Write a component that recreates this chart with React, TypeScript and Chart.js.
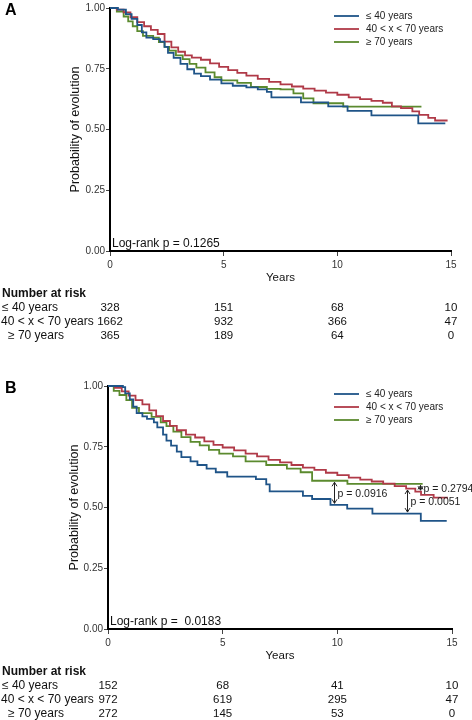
import React, { useEffect, useRef } from "react";
import { Chart, registerables } from "chart.js";
Chart.register(...registerables);

const FONT = '"Liberation Sans", Arial, Helvetica, sans-serif';

const seriesLabels = ["≤ 40 years", "40 < x < 70 years", "≥ 70 years"];
const seriesColors = ["#1f5488", "#b03a48", "#5b8a2e"];
const riskTimes = [0, 5, 10, 15];

// ---------- Panel A ----------
const blueA_t = [0, 0.35, 0.7, 0.95, 1.2, 1.4, 1.6, 1.9, 2.2, 2.4, 2.55, 2.8, 3.1, 3.4, 3.7, 4.0, 4.4, 4.9, 5.4, 6.0, 6.5, 6.9, 7.1, 8.4, 9.6, 10.45, 11.5, 13.56, 14.75];
const blueA_s = [1.0, 0.993, 0.975, 0.955, 0.93, 0.9, 0.878, 0.872, 0.862, 0.84, 0.815, 0.795, 0.77, 0.748, 0.73, 0.72, 0.705, 0.69, 0.68, 0.673, 0.665, 0.655, 0.632, 0.612, 0.595, 0.577, 0.558, 0.525, 0.525];
const redA_t = [0, 0.3, 0.6, 0.9, 1.2, 1.5, 1.8, 2.1, 2.4, 2.7, 3.0, 3.3, 3.6, 4.0, 4.4, 4.8, 5.2, 5.6, 6.0, 6.5, 7.0, 7.5, 8.0, 8.5, 9.0, 9.5, 10.0, 10.5, 11.0, 11.5, 12.0, 12.4, 12.8, 13.3, 13.6, 14.0, 14.3, 14.85];
const redA_s = [1.0, 0.993, 0.982, 0.962, 0.942, 0.925, 0.91, 0.893, 0.862, 0.838, 0.82, 0.805, 0.796, 0.787, 0.772, 0.758, 0.744, 0.733, 0.722, 0.708, 0.696, 0.686, 0.677, 0.668, 0.66, 0.652, 0.643, 0.632, 0.625, 0.618, 0.61, 0.595, 0.588, 0.575, 0.56, 0.548, 0.537, 0.537];
const greenA_t = [0, 0.3, 0.6, 0.8, 1.0, 1.2, 1.45, 1.9, 2.15, 2.4, 2.6, 2.9, 3.2, 3.5, 3.8, 4.2, 4.6, 4.9, 5.6, 6.2, 6.9, 7.5, 8.07, 8.5, 8.95, 10.26, 13.7];
const greenA_s = [1.0, 0.985, 0.965, 0.945, 0.925, 0.905, 0.885, 0.878, 0.86, 0.84, 0.825, 0.805, 0.79, 0.77, 0.755, 0.735, 0.715, 0.702, 0.692, 0.675, 0.667, 0.665, 0.649, 0.628, 0.608, 0.594, 0.594];

const riskA_le40 = [328, 151, 68, 10];
const riskA_mid = [1662, 932, 366, 47];
const riskA_ge70 = [365, 189, 64, 0];
const logRankA = "Log-rank p = 0.1265";

// ---------- Panel B ----------
const blueB_t = [0, 0.65, 0.75, 0.95, 1.1, 1.25, 1.5, 1.7, 2.0, 2.15, 2.4, 2.55, 2.75, 3.0, 3.2, 3.6, 3.9, 4.3, 4.7, 5.2, 6.45, 6.9, 7.05, 8.5, 8.9, 9.7, 10.43, 11.53, 13.64, 14.77];
const blueB_s = [1.0, 0.995, 0.97, 0.945, 0.915, 0.888, 0.875, 0.865, 0.85, 0.83, 0.8, 0.775, 0.755, 0.73, 0.707, 0.69, 0.675, 0.66, 0.645, 0.627, 0.617, 0.595, 0.566, 0.548, 0.535, 0.511, 0.495, 0.475, 0.445, 0.445];
const redB_t = [0, 0.3, 0.6, 0.9, 1.2, 1.5, 1.8, 2.1, 2.4, 2.7, 3.0, 3.4, 3.8, 4.2, 4.6, 5.0, 5.5, 6.0, 6.5, 7.0, 7.5, 8.0, 8.5, 9.0, 9.5, 10.0, 10.5, 11.0, 11.5, 12.0, 12.5, 13.0, 13.4, 13.65, 14.2, 14.82];
const redB_s = [1.0, 0.992, 0.978, 0.96, 0.942, 0.924, 0.9, 0.876, 0.856, 0.836, 0.818, 0.8, 0.788, 0.772, 0.758, 0.747, 0.735, 0.722, 0.71, 0.696, 0.686, 0.675, 0.664, 0.655, 0.643, 0.633, 0.623, 0.615, 0.607, 0.598, 0.588, 0.578, 0.565, 0.552, 0.541, 0.541];
const greenB_t = [0, 0.25, 0.5, 0.8, 1.05, 1.35, 1.9, 2.3, 2.55, 2.85, 3.2, 3.6, 4.0, 4.4, 4.85, 5.45, 6.0, 6.9, 7.8, 8.4, 8.9, 10.44, 13.72];
const greenB_s = [1.0, 0.98, 0.963, 0.942, 0.91, 0.888, 0.873, 0.85, 0.835, 0.812, 0.79, 0.77, 0.756, 0.737, 0.722, 0.71, 0.69, 0.675, 0.66, 0.645, 0.61, 0.597, 0.597];

const riskB_le40 = [152, 68, 41, 10];
const riskB_mid = [972, 619, 295, 47];
const riskB_ge70 = [272, 145, 53, 0];
const logRankB = "Log-rank p =  0.0183";

// pairwise comparison arrows in B (time, upper series, lower series, label)
const arrowTimesB = [9.85, 13.03, 13.6];
const arrowUpperB = [2, 1, 2];
const arrowLowerB = [0, 0, 1];
const arrowLabelsB = ["p = 0.0916", "p = 0.0051", "p = 0.2794"];

type Series = { t: number[]; s: number[] };

function stepValue(se: Series, x: number) {
  let v = se.s[0];
  for (let i = 0; i < se.t.length; i++) if (se.t[i] <= x) v = se.s[i];
  return v;
}

type PanelProps = {
  letter: string;
  series: Series[];
  risk: number[][];
  logRank: string;
  arrows?: { t: number[]; upper: number[]; lower: number[]; labels: string[] };
  height: number;
  padLeft: number;
  axisWidth: number;
  padRight: number;
};

function KMPanel(p: PanelProps) {
  const ref = useRef<HTMLCanvasElement>(null);
  useEffect(() => {
    if (!ref.current) return;
    const extras = {
      id: "extras",
      afterDraw(chart: any) {
        const ctx = chart.ctx as CanvasRenderingContext2D;
        const area = chart.chartArea;
        const xs = chart.scales.x;
        const ys = chart.scales.y;
        ctx.save();
        // panel letter
        ctx.fillStyle = "#000";
        ctx.font = `bold 16px ${FONT}`;
        ctx.textBaseline = "middle";
        ctx.textAlign = "left";
        ctx.fillText(p.letter, 5, 11);
        // legend
        ctx.font = `10px ${FONT}`;
        for (let i = 0; i < seriesLabels.length; i++) {
          const y = 16 + i * 13;
          ctx.strokeStyle = seriesColors[i];
          ctx.lineWidth = 1.8;
          ctx.beginPath();
          ctx.moveTo(334, y);
          ctx.lineTo(359, y);
          ctx.stroke();
          ctx.fillStyle = "#222";
          ctx.fillText(seriesLabels[i], 366, y + 0.5);
        }
        // log-rank
        ctx.font = `12px ${FONT}`;
        ctx.fillStyle = "#111";
        ctx.fillText(p.logRank, area.left + 2, area.bottom - 7.5);
        // arrows
        if (p.arrows) {
          const a = p.arrows;
          ctx.strokeStyle = "#222";
          ctx.fillStyle = "#222";
          ctx.lineWidth = 1;
          for (let i = 0; i < a.t.length; i++) {
            const x = Math.round(xs.getPixelForValue(a.t[i])) + 0.5;
            const y1 = ys.getPixelForValue(stepValue(p.series[a.upper[i]], a.t[i])) + 1.5;
            const y2 = ys.getPixelForValue(stepValue(p.series[a.lower[i]], a.t[i])) - 1.5;
            ctx.beginPath();
            ctx.moveTo(x, y1);
            ctx.lineTo(x, y2);
            ctx.moveTo(x - 2.5, y1 + 4);
            ctx.lineTo(x, y1);
            ctx.lineTo(x + 2.5, y1 + 4);
            ctx.moveTo(x - 2.5, y2 - 4);
            ctx.lineTo(x, y2);
            ctx.lineTo(x + 2.5, y2 - 4);
            ctx.stroke();
            ctx.font = `10.5px ${FONT}`;
            ctx.fillText(a.labels[i], x + 3, (y1 + y2) / 2 + 1.5);
          }
        }
        // number at risk table
        const tTop = area.bottom + 42.5;
        ctx.fillStyle = "#111";
        ctx.font = `bold 12px ${FONT}`;
        ctx.textAlign = "left";
        ctx.fillText("Number at risk", 2, tTop);
        const labelX = [2, 1, 8];
        for (let r = 0; r < p.risk.length; r++) {
          const y = tTop + 14 * (r + 1);
          ctx.font = `12px ${FONT}`;
          ctx.textAlign = "left";
          ctx.fillText(seriesLabels[r], labelX[r], y);
          ctx.font = `11.5px ${FONT}`;
          ctx.textAlign = "center";
          for (let c = 0; c < riskTimes.length; c++) {
            ctx.fillText(String(p.risk[r][c]), xs.getPixelForValue(riskTimes[c]), y);
          }
        }
        ctx.restore();
      },
    };

    const chart = new Chart(ref.current, {
      type: "line",
      data: {
        datasets: p.series.map((se, i) => ({
          label: seriesLabels[i],
          data: se.t.map((t, j) => ({ x: t, y: se.s[j] })),
          borderColor: seriesColors[i],
          backgroundColor: seriesColors[i],
          borderWidth: 1.8,
          pointRadius: 0,
          stepped: "before" as const,
          fill: false,
          clip: false as any,
        })),
      },
      options: {
        animation: false,
        responsive: false,
        maintainAspectRatio: false,
        layout: { padding: { left: p.padLeft, right: p.padRight, top: 8, bottom: p.height - 285 } },
        plugins: { legend: { display: false }, tooltip: { enabled: false } },
        scales: {
          x: {
            type: "linear",
            min: 0,
            max: 15,
            afterFit: (s: any) => {
              s.height = 34;
            },
            ticks: { stepSize: 5, font: { family: FONT, size: 10 }, color: "#333", padding: 3, maxRotation: 0 },
            grid: { display: true, drawOnChartArea: false, drawTicks: true, tickLength: 5, color: "#444", lineWidth: 1 },
            border: { display: true, color: "#000", width: 2 },
            title: { display: true, text: "Years", font: { family: FONT, size: 11.5 }, color: "#111", padding: 0 },
          },
          y: {
            type: "linear",
            min: 0,
            max: 1,
            afterFit: (s: any) => {
              s.width = p.axisWidth;
            },
            ticks: {
              stepSize: 0.25,
              font: { family: FONT, size: 10 },
              color: "#333",
              padding: 1,
              callback: (v: any) => Number(v).toFixed(2),
            },
            grid: { display: true, drawOnChartArea: false, drawTicks: true, tickLength: 4, color: "#444", lineWidth: 1 },
            border: { display: true, color: "#000", width: 2 },
            title: { display: true, text: "Probability of evolution", font: { family: FONT, size: 12.5 }, color: "#111", padding: 0 },
          },
        },
      },
      plugins: [extras],
    } as any);
    return () => chart.destroy();
  }, []);
  return <canvas ref={ref} width={472} height={p.height} style={{ display: "block", width: 472, height: p.height }} />;
}

export default function App() {
  const seriesA: Series[] = [
    { t: blueA_t, s: blueA_s },
    { t: redA_t, s: redA_s },
    { t: greenA_t, s: greenA_s },
  ];
  const seriesB: Series[] = [
    { t: blueB_t, s: blueB_s },
    { t: redB_t, s: redB_s },
    { t: greenB_t, s: greenB_s },
  ];
  return (
    <div style={{ position: "absolute", left: 0, top: 0, width: 472, height: 720, background: "#fff", overflow: "hidden" }}>
      <KMPanel
        letter="A"
        series={seriesA}
        risk={[riskA_le40, riskA_mid, riskA_ge70]}
        logRank={logRankA}
        height={378}
        padLeft={68}
        axisWidth={42}
        padRight={21}
      />
      <KMPanel
        letter="B"
        series={seriesB}
        risk={[riskB_le40, riskB_mid, riskB_ge70]}
        logRank={logRankB}
        arrows={{ t: arrowTimesB, upper: arrowUpperB, lower: arrowLowerB, labels: arrowLabelsB }}
        height={342}
        padLeft={67}
        axisWidth={41}
        padRight={20}
      />
    </div>
  );
}
